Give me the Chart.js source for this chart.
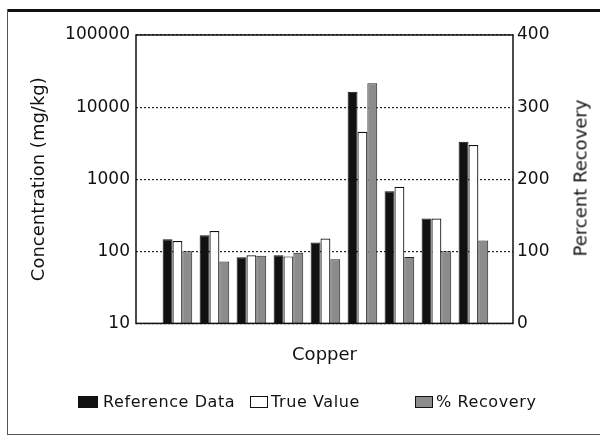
<!DOCTYPE html>
<html>
<head>
<meta charset="utf-8">
<script src="https://cdn.jsdelivr.net/npm/chart.js@4/dist/chart.umd.min.js"></script>
<style>
  html, body { margin: 0; padding: 0; background: #fff; }
  #wrap { position: relative; width: 603px; height: 436px; overflow: hidden; background: #fff; }
  canvas { position: absolute; left: 0; top: 0; }
  .ln { position: absolute; background: #111; }
  .lg { position: absolute; font-family: "DejaVu Sans", sans-serif; font-size: 16px; letter-spacing: 0.6px; color: #111; line-height: 18px; white-space: nowrap; }
  .bx { position: absolute; box-sizing: border-box; border: 1.5px solid #111; }
  #rtitle { position: absolute; left: 580px; top: 178px; transform: translate(-50%, -50%) rotate(-90deg);
            font-family: "DejaVu Sans", sans-serif; font-size: 18px; color: #111; white-space: nowrap; }
</style>
</head>
<body>
<div id="wrap">
  <canvas id="c" width="603" height="436"></canvas>
  <div class="ln" style="left:7px;top:9px;width:593px;height:3px;"></div>
  <div class="ln" style="left:7px;top:9px;width:1px;height:426px;background:#555;"></div>
  <div class="ln" style="left:7px;top:434px;width:593px;height:1px;background:#555;"></div>
  <div id="rtitle">Percent Recovery</div>
  <div class="bx" style="left:78px;top:396px;width:20px;height:12px;background:#111;"></div>
  <div class="lg" style="left:103px;top:393px;">Reference Data</div>
  <div class="bx" style="left:250px;top:396px;width:18px;height:12px;background:#fff;"></div>
  <div class="lg" style="left:271px;top:393px;">True Value</div>
  <div class="bx" style="left:415px;top:396px;width:18px;height:12px;background:#8c8c8c;"></div>
  <div class="lg" style="left:436px;top:393px;">% Recovery</div>
</div>
<script>
// Data (9 copper samples)
const groups = [1, 2, 3, 4, 5, 6, 7, 8, 9];
const referenceData = [147, 167, 83, 88, 132, 16300, 681, 285, 3300];   // mg/kg (log axis)
const trueValue     = [139, 191, 88, 85, 150, 4540, 783, 285, 2970];    // mg/kg (log axis)
const recovery      = [100, 86, 94, 98, 89, 333, 92, 100, 115];         // % (right axis)
const leftTicks  = [10, 100, 1000, 10000, 100000];
const rightTicks = [0, 100, 200, 300, 400];

const FONT = "'DejaVu Sans', sans-serif";
const INK = '#111';

const toPts = arr => arr.map((v, i) => ({ x: groups[i], y: v }));

const framePlugin = {
  id: 'frame',
  afterDatasetsDraw(chart) {
    const a = chart.chartArea, ctx = chart.ctx;
    ctx.save();
    ctx.strokeStyle = '#111';
    ctx.lineWidth = 1.5;
    ctx.strokeRect(a.left, a.top, a.right - a.left, a.bottom - a.top);
    ctx.restore();
  }
};

new Chart(document.getElementById('c'), {
  type: 'bar',
  data: {
    datasets: [
      { label: 'Reference Data', data: toPts(referenceData), yAxisID: 'y',
        backgroundColor: '#111', borderColor: '#111', borderWidth: 1 },
      { label: 'True Value', data: toPts(trueValue), yAxisID: 'y',
        backgroundColor: '#fff', borderColor: '#111', borderWidth: 1.2 },
      { label: '% Recovery', data: toPts(recovery), yAxisID: 'y1',
        backgroundColor: '#8c8c8c', borderColor: '#222', borderWidth: 1 }
    ]
  },
  options: {
    responsive: false,
    animation: false,
    events: [],
    categoryPercentage: 0.8,
    barPercentage: 1.0,
    layout: { padding: { left: 0, right: 0, top: 35, bottom: 70 } },
    plugins: { legend: { display: false }, tooltip: { enabled: false } },
    scales: {
      x: {
        type: 'linear',
        min: -0.12, max: 10.07,
        offset: false,
        afterBuildTicks: s => { s.ticks = groups.map(v => ({ value: v })); },
        ticks: { display: false },
        grid: { display: false, drawTicks: false, offset: false },
        border: { display: false },
        title: { display: true, text: 'Copper', color: INK,
                 font: { family: FONT, size: 18 }, padding: { top: 21, bottom: 0 } }
      },
      y: {
        type: 'logarithmic',
        position: 'left',
        min: 10, max: 100000,
        afterBuildTicks: s => { s.ticks = leftTicks.map(v => ({ value: v })); },
        afterFit: s => { s.width = 136; },
        ticks: { color: INK, font: { family: FONT, size: 17 }, padding: 6,
                 callback: v => String(v), autoSkip: false },
        grid: { color: '#222', lineWidth: 1.2, drawTicks: false },
        border: { display: false, dash: [2, 2] },
        title: { display: true, text: 'Concentration (mg/kg)', color: INK,
                 font: { family: FONT, size: 18 }, padding: { top: 29, bottom: 0 } }
      },
      y1: {
        type: 'linear',
        position: 'right',
        min: 0, max: 400,
        afterBuildTicks: s => { s.ticks = rightTicks.map(v => ({ value: v })); },
        afterFit: s => { s.width = 90; },
        ticks: { color: INK, font: { family: FONT, size: 17 }, padding: 4 },
        grid: { drawOnChartArea: false, drawTicks: false },
        border: { display: false }
      }
    }
  },
  plugins: [framePlugin]
});
</script>
</body>
</html>
